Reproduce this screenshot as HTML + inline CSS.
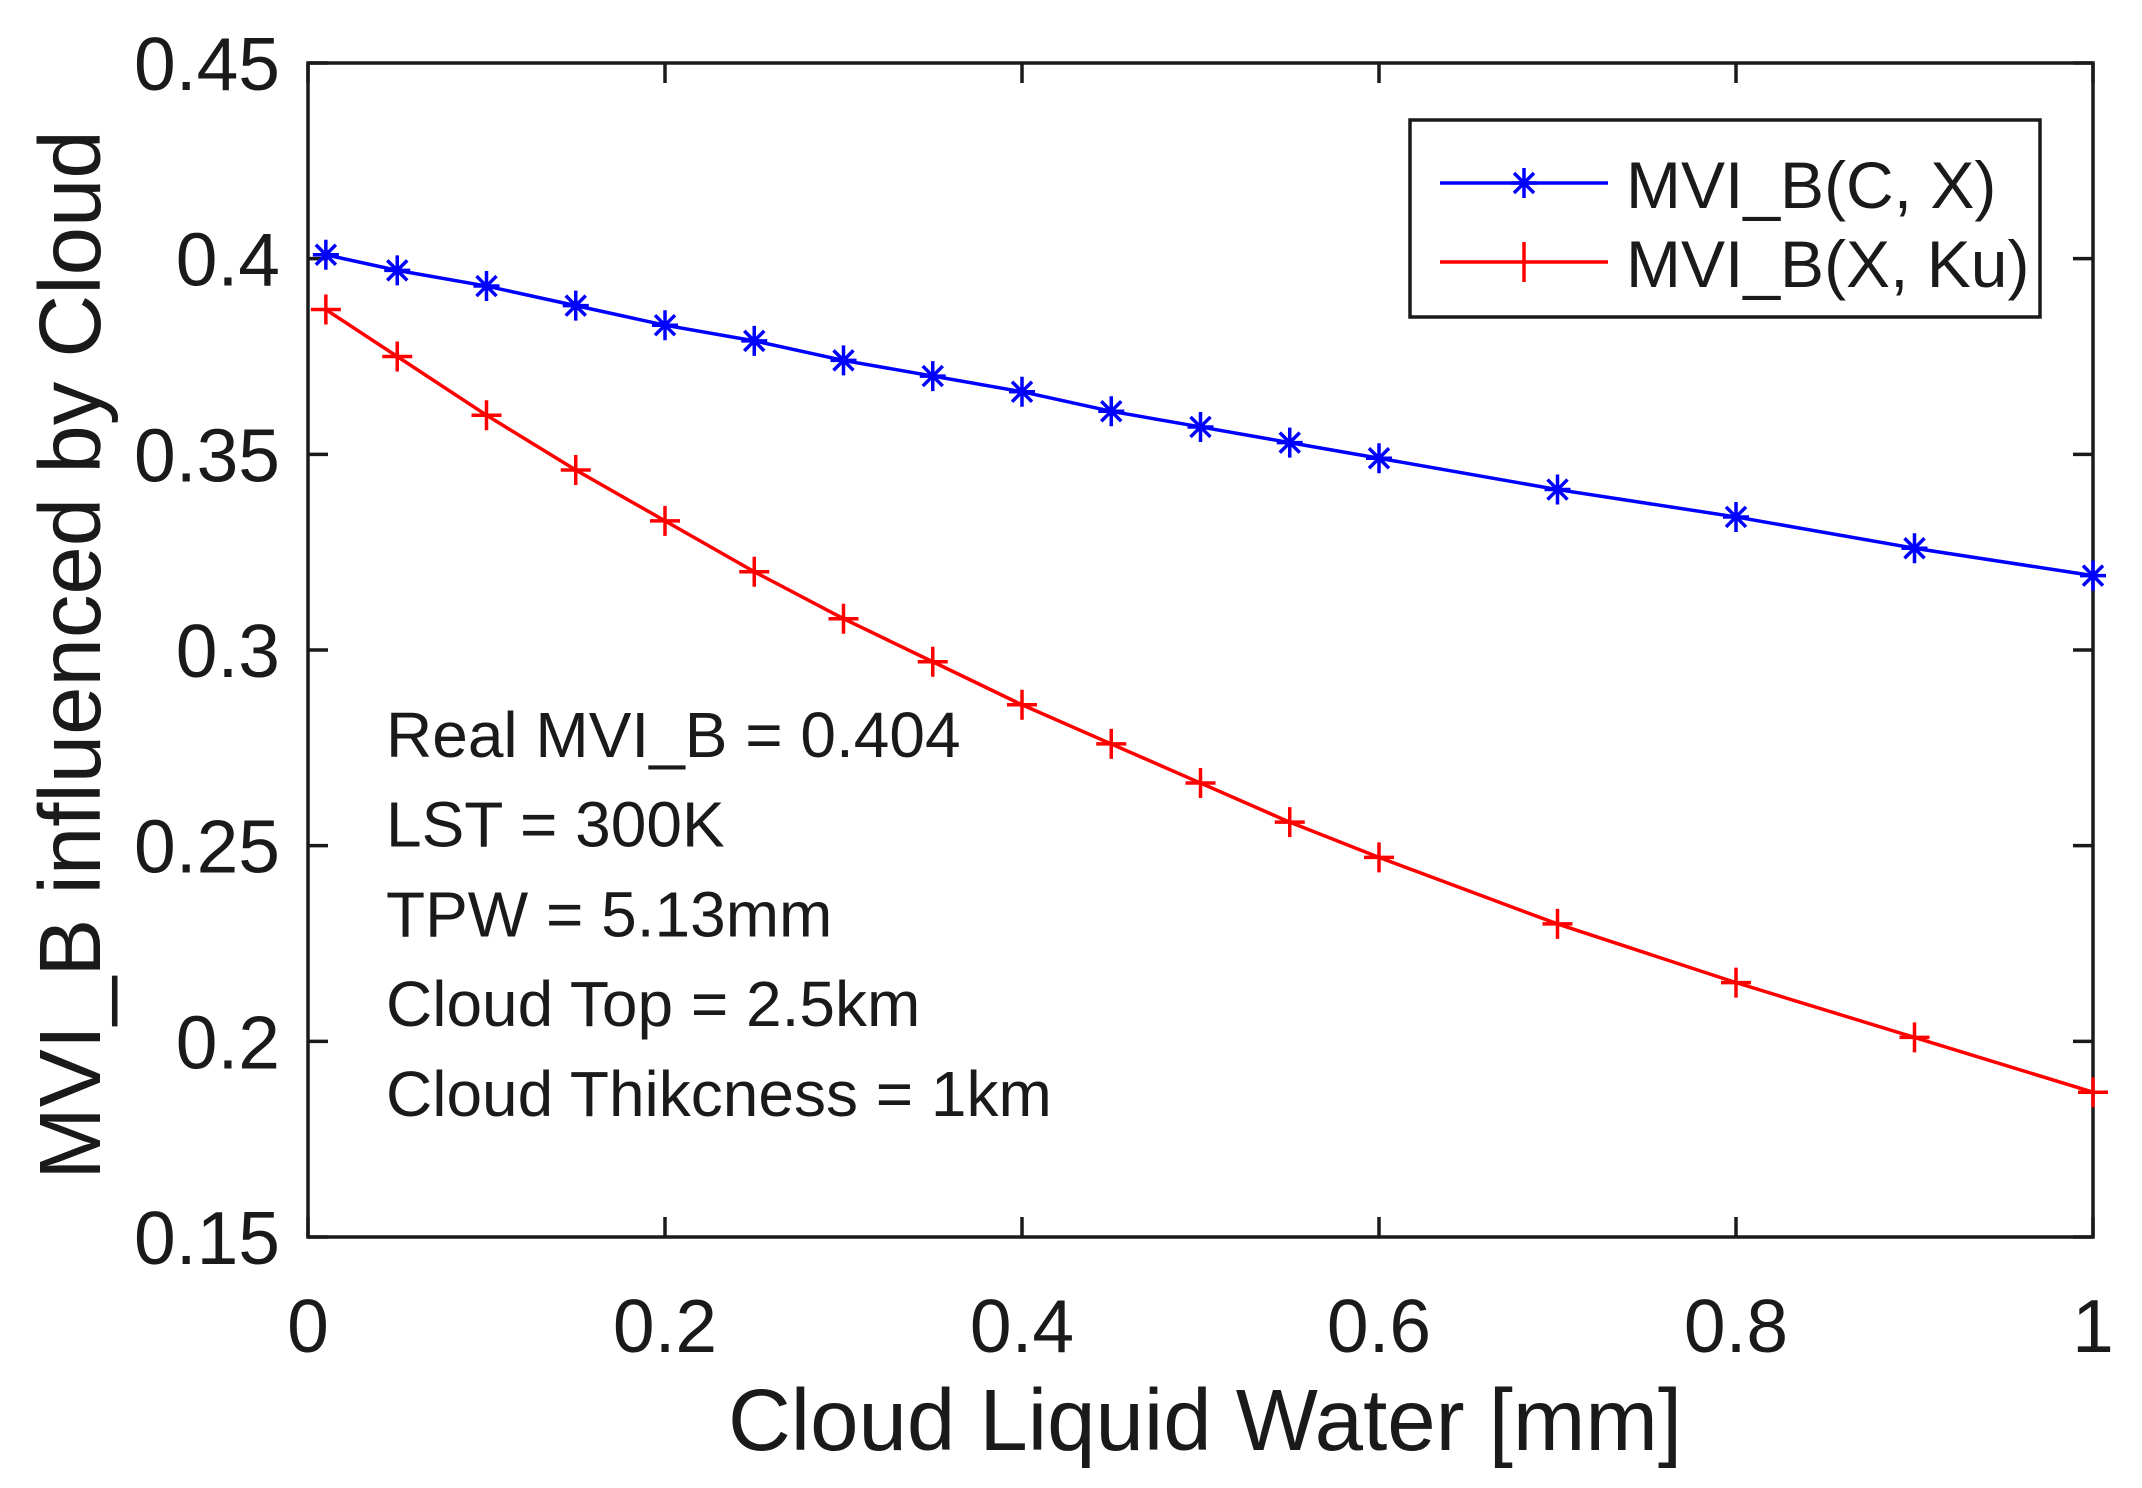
<!DOCTYPE html>
<html><head><meta charset="utf-8"><style>body{margin:0;background:#fff}svg{display:block}text{font-family:"Liberation Sans",Arial,sans-serif;fill:#1a1a1a}</style></head>
<body>
<svg id="chart" width="2142" height="1488" viewBox="0 0 2142 1488">
<g id="plot"></g>
</svg>
<script>
const xValues=[0.01,0.05,0.1,0.15,0.2,0.25,0.3,0.35,0.4,0.45,0.5,0.55,0.6,0.7,0.8,0.9,1.0];
const blueValues=[0.401,0.397,0.393,0.388,0.383,0.379,0.374,0.370,0.366,0.361,0.357,0.353,0.349,0.341,0.334,0.326,0.319];
const redValues=[0.387,0.375,0.360,0.346,0.333,0.320,0.308,0.297,0.286,0.276,0.266,0.256,0.247,0.230,0.215,0.201,0.187];
const xTicks=[0,0.2,0.4,0.6,0.8,1];
const xTickLabels=["0","0.2","0.4","0.6","0.8","1"];
const yTicks=[0.15,0.2,0.25,0.3,0.35,0.4,0.45];
const yTickLabels=["0.15","0.2","0.25","0.3","0.35","0.4","0.45"];
const annotations=["Real MVI_B = 0.404","LST = 300K","TPW = 5.13mm","Cloud Top = 2.5km","Cloud Thikcness = 1km"];

const L=308,R=2093,T=63,B=1237;
const sx=v=>L+(v-0)/(1-0)*(R-L);
const sy=v=>B-(v-0.15)/(0.45-0.15)*(B-T);
const NS="http://www.w3.org/2000/svg";
const g=document.getElementById('plot');
function mk(tag,attrs,parent){const e=document.createElementNS(NS,tag);for(const k in attrs)e.setAttribute(k,attrs[k]);(parent||g).appendChild(e);return e;}

let box=mk('rect',{x:L,y:T,width:R-L,height:B-T,fill:'none',stroke:'#1a1a1a','stroke-width':3.5});



xTicks.forEach((t,i)=>{
  const x=sx(t);
  let a=mk('line',{x1:x,y1:B,x2:x,y2:B-20,stroke:'#1a1a1a','stroke-width':3.5});
  
  
  let b=mk('line',{x1:x,y1:T,x2:x,y2:T+20,stroke:'#1a1a1a','stroke-width':3.5});
  
  
  let tx=mk('text',{x:x,y:1352,'text-anchor':'middle','font-size':75});
  tx.textContent=xTickLabels[i];
  
  
});
yTicks.forEach((t,i)=>{
  const y=sy(t);
  let a=mk('line',{x1:L,y1:y,x2:L+20,y2:y,stroke:'#1a1a1a','stroke-width':3.5});
  
  
  let b=mk('line',{x1:R,y1:y,x2:R-20,y2:y,stroke:'#1a1a1a','stroke-width':3.5});
  
  
  let tx=mk('text',{x:280,y:y+27,'text-anchor':'end','font-size':75});
  tx.textContent=yTickLabels[i];
  
  
});

function series(vals,color,name,marker){
  const pts=xValues.map((x,i)=>sx(x)+','+sy(vals[i])).join(' ');
  let pl=mk('polyline',{points:pts,fill:'none',stroke:color,'stroke-width':3.5});
  
  
  xValues.forEach((x,i)=>{
    const cx=sx(x),cy=sy(vals[i]);
    let d=marker==='star'?
      `M${cx-13},${cy}H${cx+13}M${cx},${cy-15}V${cy+15}M${cx-10},${cy-10}L${cx+10},${cy+10}M${cx-10},${cy+10}L${cx+10},${cy-10}`:
      `M${cx-15},${cy}H${cx+15}M${cx},${cy-15}V${cy+15}`;
    let m=mk('path',{d:d,stroke:color,'stroke-width':3.5,fill:'none'});
    
    
  });
}
series(blueValues,'#0000ff','series-c-x','star');
series(redValues,'#ff0000','series-x-ku','plus');

annotations.forEach((s,i)=>{
  let t=mk('text',{x:386,y:757+i*89.7,'font-size':64});
  t.textContent=s;
  
  
});

let lg=mk('g',{});


let lb=mk('rect',{x:1410,y:120,width:630,height:197,fill:'#fff',stroke:'#1a1a1a','stroke-width':3.5},lg);


[['#0000ff','MVI_B(C, X)','star',183],['#ff0000','MVI_B(X, Ku)','plus',262]].forEach(([c,label,mkType,y])=>{
  let e=mk('g',{},lg);
  
  
  mk('line',{x1:1440,y1:y,x2:1608,y2:y,stroke:c,'stroke-width':3.5},e);
  const cx=1524;
  let d=mkType==='star'?
    `M${cx-13},${y}H${cx+13}M${cx},${y-15}V${y+15}M${cx-10},${y-10}L${cx+10},${y+10}M${cx-10},${y+10}L${cx+10},${y-10}`:
    `M${cx},${y-20}V${y+20}`;
  mk('path',{d:d,stroke:c,'stroke-width':3.5,fill:'none'},e);
  let t=mk('text',{x:1626,y:y+25,'font-size':66},e);
  t.textContent=label;
});

let xt=mk('text',{x:1205,y:1450,'text-anchor':'middle','font-size':87});
xt.textContent='Cloud Liquid Water [mm]';


let yt=mk('text',{x:0,y:0,'text-anchor':'middle','font-size':87,transform:'translate(100,655) rotate(-90)'});
yt.textContent='MVI_B influenced by Cloud';


</script>
</body></html>
